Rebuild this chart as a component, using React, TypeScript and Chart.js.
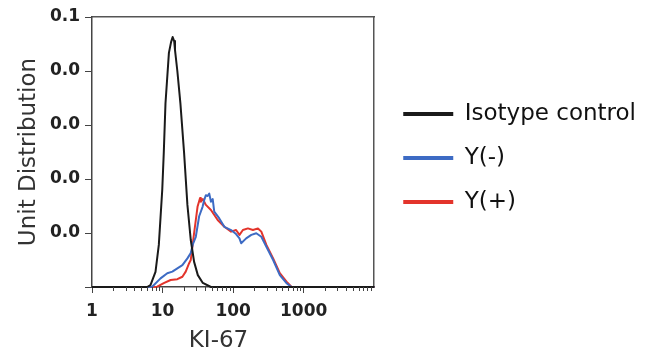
import React, { useEffect, useRef } from 'react';
import { Chart, registerables } from 'chart.js';

Chart.register(...registerables);

const FONT = '"DejaVu Sans", Verdana, sans-serif';

const seriesLabels = ['Isotype control', 'Y(-)', 'Y(+)'];
const seriesColors = ['#1a1a1a', '#3d6bc4', '#e3342b'];

const isotypeX = [1, 6.04, 6.74, 7.94, 8.85, 9.9, 10.4, 11.0, 12.3, 13.2, 13.9, 14.6, 15.0, 16.2, 17.9, 20.2, 22.5, 25.1, 28.0, 31.6, 37.2, 48.5, 10000];
const isotypeY = [0, 0, 0.0007, 0.0056, 0.0156, 0.036, 0.0496, 0.068, 0.0867, 0.0907, 0.0926, 0.0911, 0.0878, 0.080, 0.068, 0.0496, 0.0304, 0.0174, 0.0093, 0.0044, 0.0015, 0, 0];

const yNegX = [1, 6.04, 7.12, 9.36, 11.67, 13.76, 16.2, 19.1, 22.5, 25.1, 27.0, 29.6, 33.0, 36.9, 38.9, 41.1, 43.5, 45.9, 48.5, 51.3, 54.0, 63.7, 75.1, 93.6, 110, 123, 130, 153, 181, 213, 251, 296, 369, 459, 571, 674, 10000];
const yNegY = [0, 0, 0.0001, 0.0032, 0.0051, 0.0057, 0.0069, 0.0081, 0.0106, 0.0126, 0.0160, 0.0186, 0.0262, 0.0297, 0.0322, 0.0340, 0.0337, 0.0346, 0.0316, 0.0326, 0.0279, 0.0254, 0.0223, 0.0211, 0.0196, 0.0180, 0.0162, 0.0180, 0.0193, 0.0199, 0.0186, 0.0149, 0.0100, 0.0044, 0.0014, 0, 0];

const yPosX = [1, 7.12, 8.40, 10.4, 13.0, 16.2, 19.1, 21.3, 23.8, 25.1, 28.0, 31.3, 34.0, 34.9, 37.2, 41.1, 48.5, 60.4, 75.1, 93.6, 110, 123, 137.6, 162, 191, 225, 251, 296, 369, 459, 571, 674, 10000];
const yPosY = [0, 0, 0.0001, 0.0014, 0.0026, 0.0029, 0.0038, 0.0057, 0.0088, 0.0100, 0.0200, 0.0297, 0.0330, 0.0316, 0.0326, 0.0304, 0.0285, 0.0248, 0.0223, 0.0205, 0.0211, 0.0193, 0.0211, 0.0217, 0.0211, 0.0217, 0.0205, 0.0156, 0.0106, 0.0051, 0.0020, 0, 0];

const xMajorTicks = [1, 10, 100, 1000];
const xMajorLabels = ['1', '10', '100', '1000'];
const xMinorTicks = [2, 3, 4, 5, 6, 7, 8, 9, 20, 30, 40, 50, 60, 70, 80, 90, 200, 300, 400, 500, 600, 700, 800, 900, 2000, 3000, 4000, 5000, 6000, 7000, 8000, 9000];
const yTickValues = [0, 0.02, 0.04, 0.06, 0.08, 0.1];
const yTickLabels = ['', '0.0', '0.0', '0.0', '0.0', '0.1'];

const xTitle = 'KI-67';
const yTitle = 'Unit Distribution';

const toPoints = (xs: number[], ys: number[]) => xs.map((x, i) => ({ x, y: ys[i] }));

const minorTicksPlugin = {
  id: 'minorTicks',
  afterDraw(chart: any) {
    const s = chart.scales.x;
    const ctx = chart.ctx;
    ctx.save();
    ctx.strokeStyle = '#444';
    ctx.lineWidth = 1;
    ctx.beginPath();
    xMinorTicks.forEach((v) => {
      const px = Math.round(s.getPixelForValue(v)) + 0.5;
      ctx.moveTo(px, s.top);
      ctx.lineTo(px, s.top + 4);
    });
    ctx.stroke();
    ctx.restore();
  },
};

export default function App() {
  const ref = useRef<HTMLCanvasElement | null>(null);

  useEffect(() => {
    document.body.style.margin = '0';
    if (!ref.current) return;
    const lists = [toPoints(isotypeX, isotypeY), toPoints(yNegX, yNegY), toPoints(yPosX, yPosY)];
    const chart = new Chart(ref.current, {
      type: 'line',
      data: {
        datasets: seriesLabels.map((label, i) => ({
          label,
          data: lists[i],
          borderColor: seriesColors[i],
          backgroundColor: seriesColors[i],
          borderWidth: 2,
          pointRadius: 0,
          tension: 0,
          borderJoinStyle: 'round',
          clip: 4,
        })),
      },
      options: {
        responsive: false,
        animation: false,
        events: [],
        layout: { padding: { left: 0, top: 0, bottom: 0, right: 4 } },
        plugins: {
          tooltip: { enabled: false },
          legend: {
            position: 'right',
            fullSize: false,
            maxWidth: 320,
            title: { display: true, text: ' ', font: { size: 10, lineHeight: 1 }, padding: 1 },
            labels: {
              boxWidth: 50,
              boxHeight: 4,
              padding: 21,
              color: '#111',
              font: { family: FONT, size: 23 },
              generateLabels: (chart: any) =>
                Chart.defaults.plugins.legend.labels.generateLabels(chart).map((l: any) => ({ ...l, lineWidth: 0 })),
            },
          },
        },
        scales: {
          x: {
            type: 'logarithmic',
            position: 'bottom',
            min: 1,
            max: 10000,
            afterBuildTicks: (s: any) => {
              s.ticks = xMajorTicks.map((v) => ({ value: v }));
            },
            afterFit: (s: any) => {
              s.height = 68;
            },
            ticks: {
              autoSkip: false,
              maxRotation: 0,
              padding: 8,
              color: '#222',
              font: { family: FONT, size: 17, weight: 'bold' },
              callback: (_v: any, i: number) => xMajorLabels[i],
            },
            grid: { drawOnChartArea: false, drawTicks: true, tickLength: 6, color: '#444' },
            border: { display: true, color: '#444', width: 1.5 },
            title: {
              display: true,
              text: xTitle + '    ',
              color: '#333',
              font: { family: FONT, size: 23 },
              padding: { top: 0, bottom: 0 },
            },
          },
          xT: {
            axis: 'x',
            type: 'linear',
            position: 'top',
            min: 0,
            max: 1,
            ticks: { display: false },
            grid: { display: false },
            border: { display: true, color: '#555', width: 1.5 },
            afterFit: (s: any) => {
              s.height = 17;
            },
          },
          y: {
            type: 'linear',
            position: 'left',
            min: 0,
            max: 0.1,
            afterBuildTicks: (s: any) => {
              s.ticks = yTickValues.map((v) => ({ value: v }));
            },
            afterFit: (s: any) => {
              s.width = 92;
            },
            ticks: {
              padding: 5,
              color: '#222',
              font: { family: FONT, size: 17, weight: 'bold' },
              callback: (_v: any, i: number) => yTickLabels[i],
            },
            grid: { drawOnChartArea: false, drawTicks: true, tickLength: 7, color: '#444' },
            border: { display: true, color: '#444', width: 1.5 },
            title: {
              display: true,
              text: yTitle,
              color: '#333',
              font: { family: FONT, size: 23 },
              padding: { top: 15, bottom: 0 },
            },
          },
          yR: {
            axis: 'y',
            type: 'linear',
            position: 'right',
            min: 0,
            max: 1,
            ticks: { display: false },
            grid: { display: false },
            border: { display: true, color: '#555', width: 1.5 },
            afterFit: (s: any) => {
              s.width = 8;
            },
          },
        },
      } as any,
      plugins: [minorTicksPlugin],
    });
    return () => chart.destroy();
  }, []);

  return (
    <div style={{ width: 650, height: 355, background: '#fff' }}>
      <canvas ref={ref} width={650} height={355} />
    </div>
  );
}
